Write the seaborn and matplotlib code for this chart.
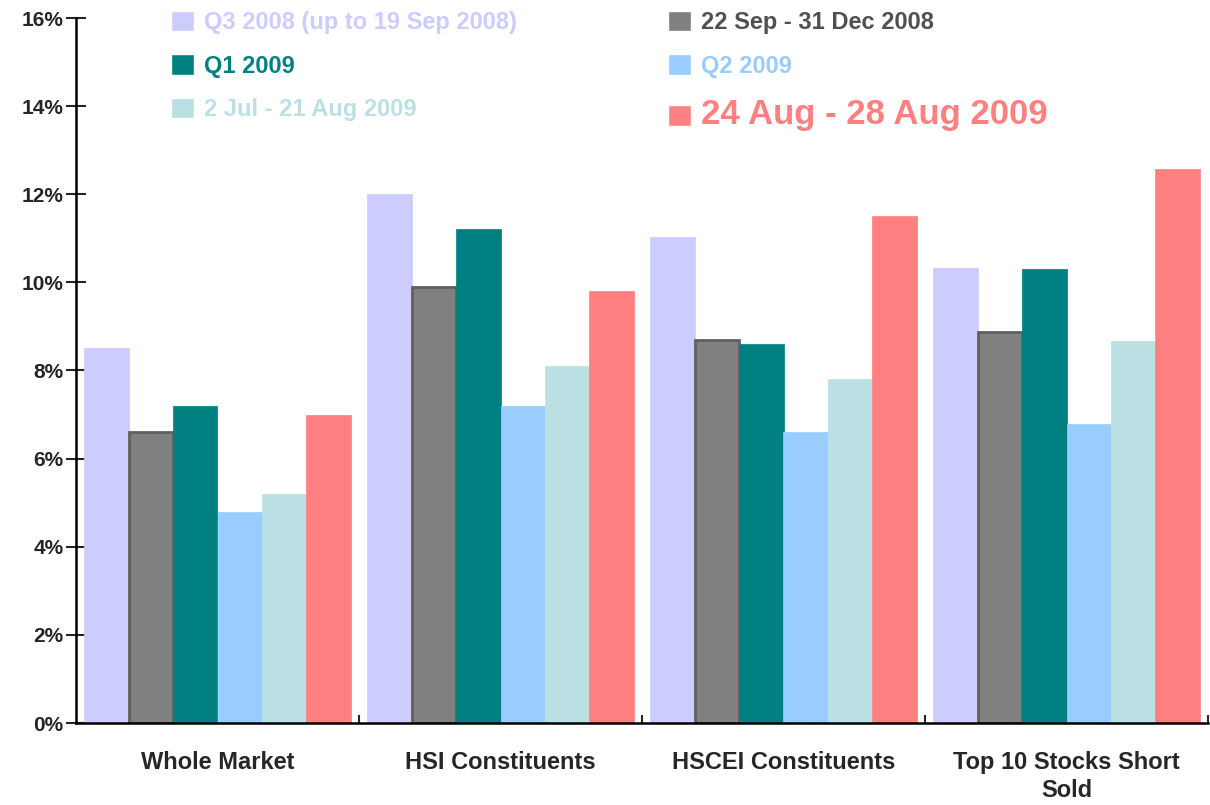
import pandas as pd
import matplotlib.pyplot as plt
import seaborn as sns
from matplotlib.ticker import FuncFormatter, FixedLocator

categories = ['Whole Market', 'HSI Constituents', 'HSCEI Constituents', 'Top 10 Stocks Short\nSold']
series = ['Q3 2008 (up to 19 Sep 2008)', '22 Sep - 31 Dec 2008', 'Q1 2009',
          'Q2 2009', '2 Jul - 21 Aug 2009', '24 Aug - 28 Aug 2009']
q3_2008 = [8.52, 12.0, 11.02, 10.32]
sep_dec_2008 = [6.61, 9.9, 8.7, 8.87]
q1_2009 = [7.2, 11.2, 8.61, 10.3]
q2_2009 = [4.8, 7.2, 6.61, 6.78]
jul_aug_2009 = [5.2, 8.11, 7.8, 8.67]
aug_2009 = [6.98, 9.8, 11.5, 12.57]
colors = ['#CCCCFF', '#808080', '#008080', '#99CCFF', '#BBE0E3', '#FF8080']
text_colors = ['#CCCCFF', '#505050', '#008080', '#99CCFF', '#BBE0E3', '#FF8080']

values = [q3_2008, sep_dec_2008, q1_2009, q2_2009, jul_aug_2009, aug_2009]
df = pd.DataFrame([(c, s, v) for s, vals in zip(series, values) for c, v in zip(categories, vals)],
                  columns=['Kategoria', 'Okres', 'Wartosc'])

sns.set_style('white')
plt.rcParams['font.family'] = ['Liberation Sans', 'DejaVu Sans']
plt.rcParams['font.weight'] = 'bold'

fig = plt.figure(figsize=(12.1, 8.05), dpi=100)
ax = fig.add_axes([76 / 1210, 1 - 723 / 805, (1208 - 76) / 1210, (723 - 18) / 805])

sns.barplot(data=df, x='Kategoria', y='Wartosc', hue='Okres', order=categories, hue_order=series,
            palette=colors, saturation=1, width=0.94, ax=ax, legend=True)

for i, cont in enumerate(ax.containers):
    for p in cont:
        if i == 1:
            p.set_edgecolor('#606060')
            p.set_linewidth(2)
        else:
            p.set_edgecolor(colors[i])
            p.set_linewidth(0.5)

ax.set_ylim(0, 16)
ax.set_xlim(-0.5, 3.5)
ax.set_yticks(range(0, 17, 2))
ax.yaxis.set_major_formatter(FuncFormatter(lambda v, _: f'{v:.0f}%'))
ax.set_xlabel('')
ax.set_ylabel('')
ax.tick_params(axis='y', direction='inout', length=14, width=1.5, labelsize=15, left=True, pad=2)
ax.tick_params(axis='x', which='major', length=0, labelsize=17, pad=20)
ax.xaxis.set_minor_locator(FixedLocator([0.5, 1.5, 2.5, 3.5]))
ax.tick_params(axis='x', which='minor', direction='in', length=6, width=1.5, bottom=True)
for lab in ax.get_xticklabels() + ax.get_yticklabels():
    lab.set_fontweight('bold')
for lab in ax.get_xticklabels():
    lab.set_linespacing(1.3)

sns.despine(ax=ax)
for s in ['left', 'bottom']:
    ax.spines[s].set_linewidth(1.8)
    ax.spines[s].set_color('black')

handles, labels = ax.get_legend_handles_labels()
order = [0, 2, 4, 1, 3, 5]
leg = ax.legend([handles[i] for i in order], [labels[i] for i in order], ncol=2,
                loc='upper left', bbox_to_anchor=(171 / 1210, 1 - 11 / 805),
                bbox_transform=fig.transFigure, frameon=False,
                prop={'size': 17, 'weight': 'bold'}, handlelength=0.97, handleheight=0.95,
                handletextpad=0.42, columnspacing=6.4, labelspacing=0.85,
                borderpad=0, borderaxespad=0)
for txt, i in zip(leg.get_texts(), order):
    txt.set_color(text_colors[i])
    if i == 5:
        txt.set_fontsize(25)

fig.savefig('out.png', dpi=100)
